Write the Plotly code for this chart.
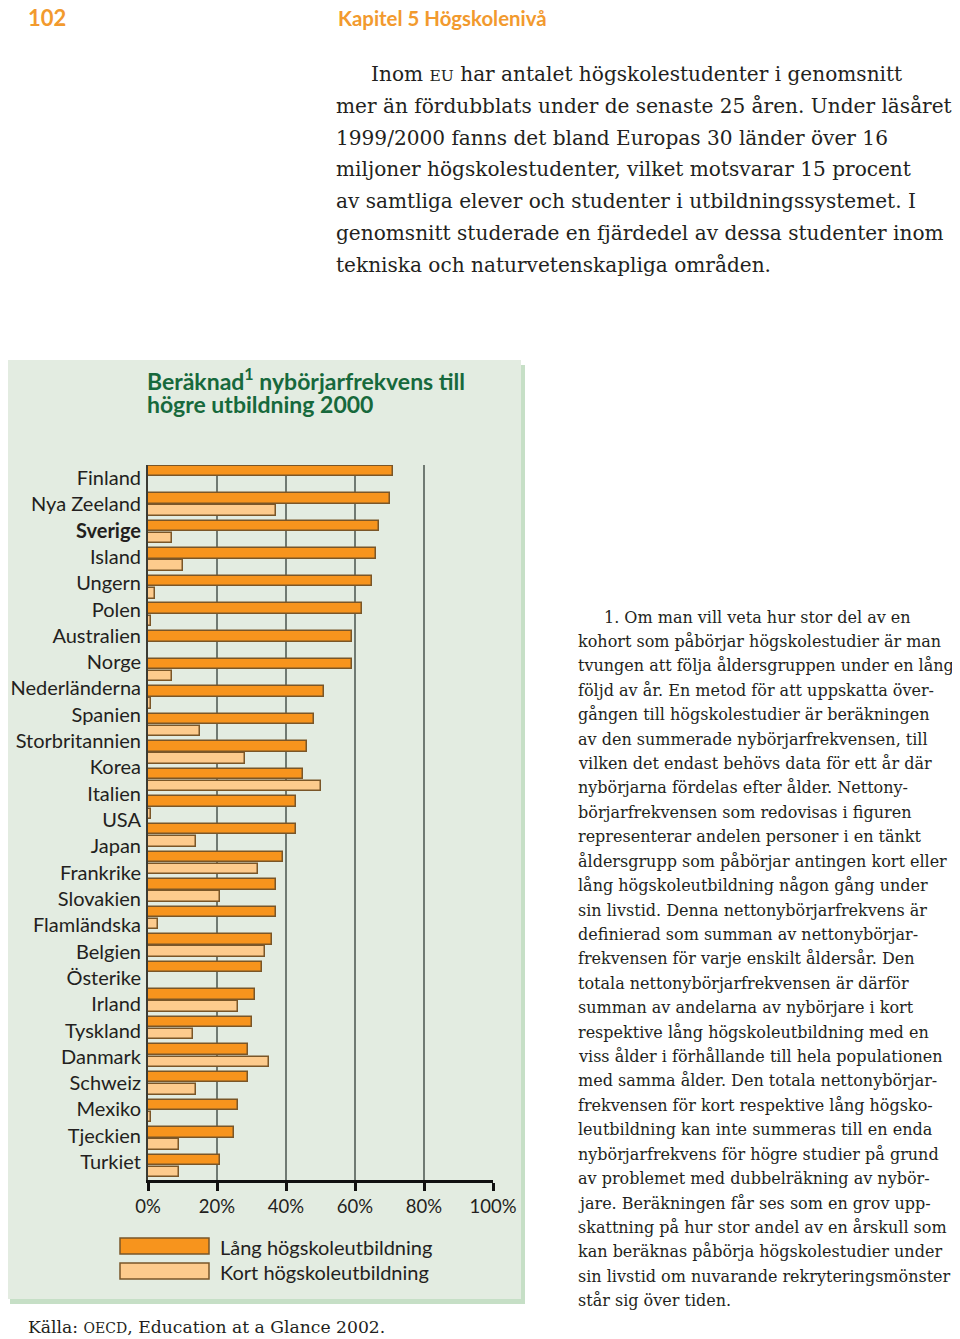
import plotly.graph_objects as go

# ---------------- data ----------------
countries = ["Finland", "Nya Zeeland", "Sverige", "Island", "Ungern", "Polen",
             "Australien", "Norge", "Nederländerna", "Spanien", "Storbritannien",
             "Korea", "Italien", "USA", "Japan", "Frankrike", "Slovakien",
             "Flamländska", "Belgien", "Österike", "Irland", "Tyskland", "Danmark",
             "Schweiz", "Mexiko", "Tjeckien", "Turkiet"]
# The printed figure shows 27 labels but only 26 bar groups (no bars for "Belgien")
bar_groups = [c for c in countries if c != "Belgien"]
long_pct = [71, 70, 67, 66, 65, 62, 59, 59, 51, 48, 46, 45, 43, 43, 39, 37, 37,
            36, 33, 31, 30, 29, 29, 26, 25, 21]
short_pct = [None, 37, 7, 10, 2, 1, None, 7, 1, 15, 28, 50, 1, 14, 32, 21, 3,
             34, None, 26, 13, 35, 14, 1, 9, 9]
x_tickvals = [0, 20, 40, 60, 80, 100]
x_ticktext = ["0%", "20%", "40%", "60%", "80%", "100%"]
series_names = ["Lång högskoleutbildning", "Kort högskoleutbildning"]

header_page = "102"
header_chapter = "Kapitel 5 Högskolenivå"
chart_title = ["Beräknad<sup>1</sup> nybörjarfrekvens till", "högre utbildning 2000"]
body_lines = [
    "Inom <span style='font-size:15.5px'>EU</span> har antalet högskolestudenter i genomsnitt",
    "mer än fördubblats under de senaste 25 åren. Under läsåret",
    "1999/2000 fanns det bland Europas 30 länder över 16",
    "miljoner högskolestudenter, vilket motsvarar 15 procent",
    "av samtliga elever och studenter i utbildningssystemet. I",
    "genomsnitt studerade en fjärdedel av dessa studenter inom",
    "tekniska och naturvetenskapliga områden.",
]
note_lines = [
    "1. Om man vill veta hur stor del av en",
    "kohort som påbörjar högskolestudier är man",
    "tvungen att följa åldersgruppen under en lång",
    "följd av år. En metod för att uppskatta över-",
    "gången till högskolestudier är beräkningen",
    "av den summerade nybörjarfrekvensen, till",
    "vilken det endast behövs data för ett år där",
    "nybörjarna fördelas efter ålder. Nettony-",
    "börjarfrekvensen som redovisas i figuren",
    "representerar andelen personer i en tänkt",
    "åldersgrupp som påbörjar antingen kort eller",
    "lång högskoleutbildning någon gång under",
    "sin livstid. Denna nettonybörjarfrekvens är",
    "definierad som summan av nettonybörjar-",
    "frekvensen för varje enskilt åldersår. Den",
    "totala nettonybörjarfrekvensen är därför",
    "summan av andelarna av nybörjare i kort",
    "respektive lång högskoleutbildning med en",
    "viss ålder i förhållande till hela populationen",
    "med samma ålder. Den totala nettonybörjar-",
    "frekvensen för kort respektive lång högsko-",
    "leutbildning kan inte summeras till en enda",
    "nybörjarfrekvens för högre studier på grund",
    "av problemet med dubbelräkning av nybör-",
    "jare. Beräkningen får ses som en grov upp-",
    "skattning på hur stor andel av en årskull som",
    "kan beräknas påbörja högskolestudier under",
    "sin livstid om nuvarande rekryteringsmönster",
    "står sig över tiden.",
]
source_text = "Källa: <span style='font-size:14px'>OECD</span>, Education at a Glance 2002."

# ---------------- styling ----------------
W, H = 960, 1339
OFF = 8  # the page places the figure 8 px in from the top-left corner

def fx(x):
    return (x - OFF) / W

def fy(y):
    return 1 - (y - OFF) / H

ORANGE = "#F7941D"
LIGHT = "#FDCB8D"
EDGE = "#7a5628"
GREEN_BG = "#E3ECE1"
GREEN_SH = "#C6DFC6"
TITLE_GREEN = "#17693C"
TEXT = "#231f20"
HEAD_ORANGE = "#F29A2E"
SANS = "Lato"
SERIF = "DejaVu Serif"

fig = go.Figure()
fig.add_trace(go.Bar(y=bar_groups, x=long_pct, orientation="h", name=series_names[0],
                     offset=-0.41, width=0.38,
                     marker=dict(color=ORANGE, line=dict(color=EDGE, width=1.5)),
                     showlegend=False))
fig.add_trace(go.Bar(y=bar_groups, x=short_pct, orientation="h", name=series_names[1],
                     offset=0.03, width=0.38,
                     marker=dict(color=LIGHT, line=dict(color=EDGE, width=1.5)),
                     showlegend=False))
# invisible trace carrying the printed country labels
fig.add_trace(go.Scatter(y=countries, x=[0] * len(countries), yaxis="y2",
                         mode="markers", marker=dict(opacity=0),
                         hoverinfo="skip", showlegend=False))

shapes = [
    dict(type="rect", xref="paper", yref="paper", x0=fx(10), x1=fx(525), y0=fy(1304), y1=fy(365),
         fillcolor=GREEN_SH, line=dict(width=0), layer="below"),
    dict(type="rect", xref="paper", yref="paper", x0=fx(5), x1=fx(521), y0=fy(1299), y1=fy(360),
         fillcolor=GREEN_BG, line=dict(width=0), layer="below"),
    dict(type="rect", xref="paper", yref="paper", x0=fx(120), x1=fx(209), y0=fy(1254), y1=fy(1238),
         fillcolor=ORANGE, line=dict(color=EDGE, width=1.5)),
    dict(type="rect", xref="paper", yref="paper", x0=fx(120), x1=fx(209), y0=fy(1279), y1=fy(1263),
         fillcolor=LIGHT, line=dict(color=EDGE, width=1.5)),
]

ann = []
def text(x, y, s, size, family, color=TEXT, xanchor="left"):
    ann.append(dict(x=fx(x), y=fy(y), xref="paper", yref="paper", text=s, showarrow=False,
                    xanchor=xanchor, yanchor="middle", align="left", borderpad=0,
                    font=dict(size=size, family=family, color=color)))

text(27, 18, "<b>" + header_page + "</b>", 22, SANS, HEAD_ORANGE)
text(337, 18, "<b>" + header_chapter + "</b>", 20.4, SANS, HEAD_ORANGE)
# two-line title: small base size gives the tight line spacing of the print
title_html = "<br>".join("<span style='font-size:23px'><b>" + t + "</b></span>" for t in chart_title)
text(146, 391, title_html, 17.7, SANS, TITLE_GREEN)
for i, line in enumerate(body_lines):
    text(370 if i == 0 else 335, 74 + 31.8 * i, line, 20.1, SERIF)
for i, line in enumerate(note_lines):
    text(603 if i == 0 else 577, 617 + 24.42 * i, line, 16.0, SERIF)
text(27, 1327, source_text, 17.2, SERIF)
text(219, 1247, series_names[0], 20, SANS)
text(219, 1272, series_names[1], 20, SANS)

fig.update_layout(
    width=W, height=H, autosize=False,
    margin=dict(l=0, r=0, t=0, b=0, pad=0, autoexpand=False),
    paper_bgcolor="white", plot_bgcolor="rgba(0,0,0,0)",
    barmode="overlay", bargap=0,
    xaxis=dict(domain=[fx(148), fx(493)], range=[0, 100], tickvals=x_tickvals,
               ticktext=x_ticktext, showgrid=True, gridcolor="#707a72", gridwidth=2,
               zeroline=False, showline=True, linecolor="#111111", linewidth=3,
               ticks="outside", ticklen=8, tickwidth=3, tickcolor="#111111",
               automargin=False,
               tickfont=dict(family=SANS, size=18.5, color=TEXT), anchor="y"),
    yaxis=dict(domain=[fy(1180), fy(465)], range=[25.51, -0.435], type="category",
               categoryorder="array", categoryarray=bar_groups, automargin=False,
               showticklabels=False, showgrid=False, zeroline=False, showline=True,
               linecolor="#3b3b33", linewidth=2, ticks=""),
    yaxis2=dict(overlaying="y", anchor="x", side="left", type="category",
                categoryorder="array", categoryarray=countries, automargin=False,
                range=[26.68, -0.494], tickvals=countries,
                ticktext=["<b>" + c + "</b>" if c == "Sverige" else c for c in countries],
                showgrid=False, zeroline=False, showline=False, ticks="",
                ticklabelstandoff=6,
                tickfont=dict(family=SANS, size=20, color=TEXT)),
    shapes=shapes, annotations=ann,
)

fig.write_html("out.html", config={"responsive": False})
